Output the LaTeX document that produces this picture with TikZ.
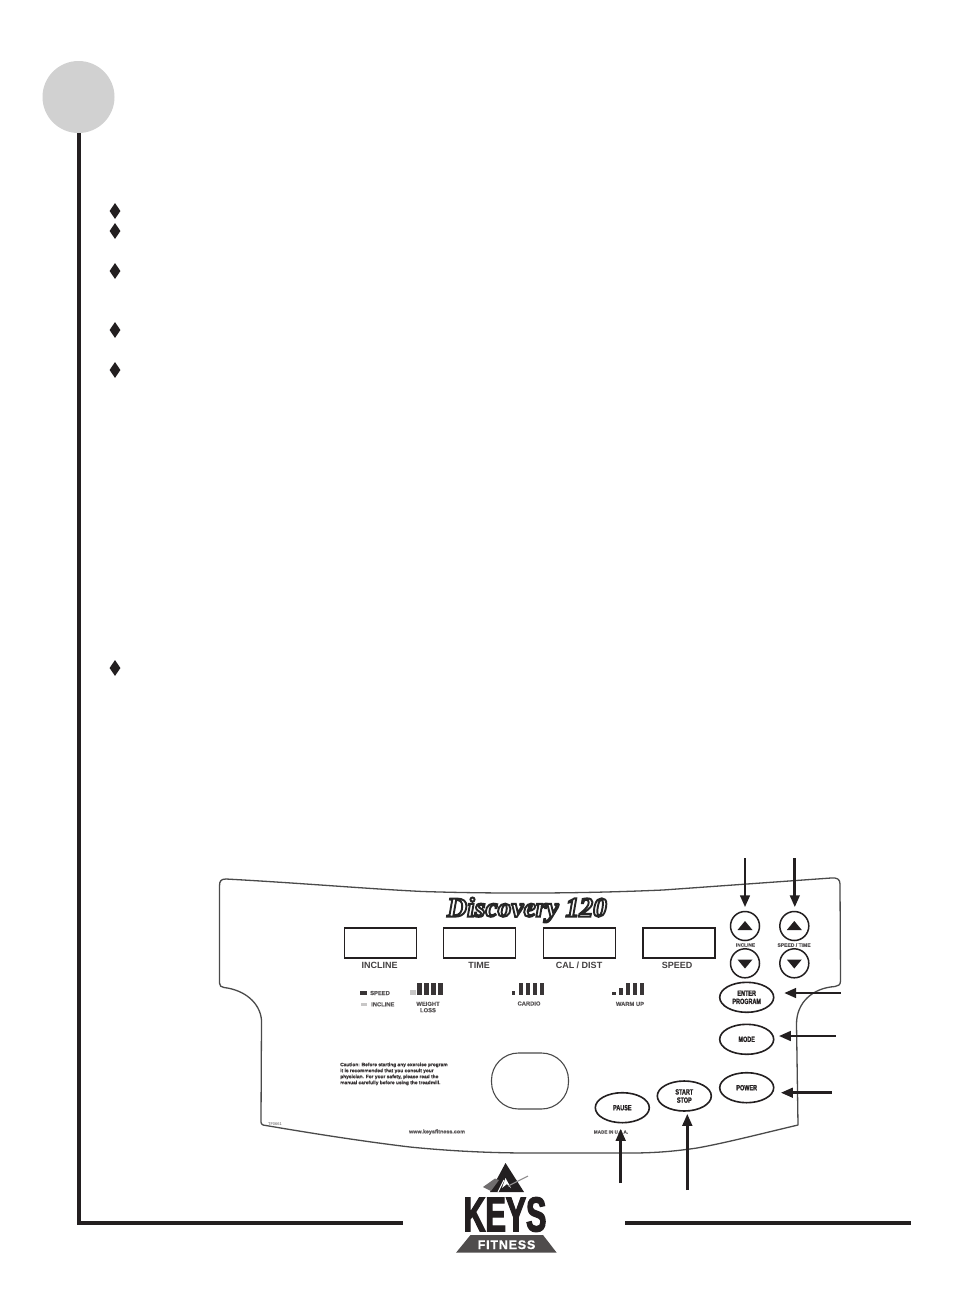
\documentclass[tikz,border=0pt]{standalone}
\usepackage{fontspec}
\usetikzlibrary{arrows.meta,shapes.geometric}
\setmainfont{Liberation Sans}
\newfontfamily\narrowf[FakeStretch=0.72,FakeBold=1.2]{Liberation Sans Bold}
\newfontfamily\keysf[FakeStretch=0.62,FakeBold=2.5]{Liberation Sans Bold}
\newfontfamily\discof[FakeBold=7]{Liberation Serif Bold Italic}
\newfontfamily\heavyf[FakeBold=0.6]{Liberation Sans Bold}
\definecolor{ink}{HTML}{231F20}
\definecolor{panel}{HTML}{4A4A4A}
\tikzset{
  x=1pt,y=-1pt,
  rail/.style={line width=4pt,ink},
  gem/.style={diamond,fill=ink,inner sep=0pt,minimum width=11pt,minimum height=16pt,aspect=0.7},
  panelline/.style={draw=panel,line width=1.3pt,line join=round},
  display/.style={draw=ink,line width=1.6pt,minimum width=72pt,minimum height=30.5pt,inner sep=0pt},
  displabel/.style={font=\bfseries\fontsize{9}{9}\selectfont,text=ink!85,inner sep=0pt},
  tiny/.style={font=\heavyf\fontsize{5.8}{6.4}\selectfont,text=ink!75,inner sep=0pt,align=center},
  roundbtn/.style={circle,draw=ink,line width=1.5pt,minimum size=29pt,inner sep=0pt},
  ovalbtn/.style={ellipse,draw=ink,line width=1.6pt,minimum width=54pt,minimum height=30pt,inner sep=0pt,align=center,
     font=\narrowf\fontsize{7.6}{8.2}\selectfont,text=ink},
  callout/.style={draw=ink,line width=2.8pt,-{Triangle[length=12pt,width=9.5pt]}},
  bar/.style={fill=ink!90,draw=none},
  faint/.style={fill=ink!25,draw=none},
  discotext/.style={inner sep=0pt,font=\discof\fontsize{27.5}{28}\selectfont},
}
\begin{document}
\begin{tikzpicture}
\useasboundingbox (0,0) rectangle (954,1312);
\fill[white] (0,0) rectangle (954,1312);

% frame
\node[circle,fill=black!18,minimum size=72pt,inner sep=0pt] (badge) at (78.5,97) {};
\coordinate (corner) at (78.5,1223);
\coordinate (railA) at (403,1223);
\coordinate (railB) at (625,1223);
\coordinate (railC) at (911,1223);
\draw[rail] (badge.south) -- (corner) -- (railA);
\draw[rail] (railB) -- (railC);

% bullets
\node[gem] (g1) at (115,211) {};
\node[gem] (g2) at (115,231) {};
\node[gem] (g3) at (115,271) {};
\node[gem] (g4) at (115,330) {};
\node[gem] (g5) at (115,370) {};
\node[gem] (g6) at (115,668) {};

% console outline
\draw[panelline]
  (219.5,886) .. controls (219.5,881) and (221,879) .. (226,879)
  .. controls (300,883) and (370,889) .. (423,891.5)
  .. controls (470,893) and (500,893) .. (530,893)
  .. controls (590,893) and (640,891) .. (663,890)
  -- (831,878)
  .. controls (837,877.5) and (840,879) .. (840,884)
  -- (840.5,981)
  .. controls (840.5,985) and (838,986) .. (835,986.5)
  .. controls (812,988) and (796.5,1003) .. (796.5,1024)
  -- (798,1125)
  .. controls (760,1134) and (725,1143) .. (697,1148)
  .. controls (670,1152) and (650,1153) .. (630,1153)
  -- (530,1153)
  .. controls (490,1153) and (450,1151) .. (410,1147)
  .. controls (360,1141) and (310,1133) .. (263,1125)
  .. controls (261.5,1124.5) and (261,1123) .. (261,1122)
  -- (261.5,1020)
  .. controls (260,1003) and (245,990) .. (224,987.5)
  .. controls (221,987) and (219.5,986) .. (219.5,983)
  -- cycle;

% brand mark: white face, dark stroke
\node[discotext,text=white] (disco) at (527,910) {\special{pdf:code 0.15 0.15 0.15 RG}Discovery 120};

% displays
\node[display] (d1) at (380.3,943) {};
\node[display] (d2) at (479.5,943) {};
\node[display] (d3) at (579.3,943) {};
\node[display] (d4) at (678.7,943) {};
\node[displabel] (l1) at (379.5,965.3) {INCLINE};
\node[displabel] (l2) at (479,965.3) {TIME};
\node[displabel] (l3) at (579,965.3) {CAL / DIST};
\node[displabel] (l4) at (677,965.3) {SPEED};

% legend
\fill[bar] (360,990.5) rectangle (367,994.5);
\fill[faint] (360.5,1002.5) rectangle (366.5,1005.5);
\node[tiny,anchor=west] (lgs) at (370,993) {SPEED};
\node[tiny,anchor=west] (lgi) at (371,1004.3) {INCLINE};

% profile bars
\fill[faint] (410,990) rectangle (416,995);
\foreach \xx in {417,424,431,438} \fill[bar] (\xx,983) rectangle (\xx+4.8,995);
\node[tiny] (wl) at (428,1007) {WEIGHT\\LOSS};
\fill[bar] (511.5,990.5) rectangle (515,995);
\foreach \xx in {518.5,525.5,532.5,539.5} \fill[bar] (\xx,983) rectangle (\xx+4.8,995);
\node[tiny] (cd) at (529,1003.5) {CARDIO};
\fill[bar] (612,992) rectangle (615.5,995);
\fill[bar] (619,988) rectangle (622.5,995);
\foreach \xx in {626,633,640} \fill[bar] (\xx,983) rectangle (\xx+4.4,995);
\node[tiny] (wu) at (630,1004) {WARM UP};

% caution, small print
\node[inner sep=0pt,anchor=north west,align=left,text=ink!90,font=\heavyf\fontsize{4.85}{6}\selectfont] (caution) at (340,1062.5)
  {Caution: Before starting any exercise program\\it is recommended that you consult your\\physician. For your safety, please read the\\manual carefully before using the treadmill.};
\node[tiny,font=\heavyf\fontsize{5.4}{6}\selectfont] (web) at (437,1132) {www.keysfitness.com};
\node[tiny,font=\heavyf\fontsize{4.6}{5}\selectfont] (usa) at (611,1132) {MADE IN U.S.A.};
\node[tiny,font=\fontsize{4}{5}\selectfont] (part) at (275,1124) {TF0661};

% centre window
\node[draw=panel,line width=1.1pt,rounded corners=27pt,minimum width=77pt,minimum height=56pt,inner sep=0pt] (window) at (530,1081) {};

% round buttons
\node[roundbtn] (incUp) at (745,926) {};
\node[roundbtn] (incDn) at (745,963.3) {};
\node[roundbtn] (spdUp) at (794.3,926) {};
\node[roundbtn] (spdDn) at (794.3,963.3) {};
\fill[ink] (745,921) -- (752.5,930) -- (737.5,930) -- cycle;
\fill[ink] (794.3,921) -- (801.8,930) -- (786.8,930) -- cycle;
\fill[ink] (745,968.5) -- (752.5,959.5) -- (737.5,959.5) -- cycle;
\fill[ink] (794.3,968.5) -- (801.8,959.5) -- (786.8,959.5) -- cycle;
\node[tiny,font=\heavyf\fontsize{4.8}{5}\selectfont] (incL) at (745.5,945) {INCLINE};
\node[tiny,font=\heavyf\fontsize{5}{5}\selectfont] (spdL) at (794,945) {SPEED / TIME};

% oval buttons
\node[ovalbtn] (enter) at (746.7,997.3) {ENTER\\PROGRAM};
\node[ovalbtn] (mode) at (746.7,1039.3) {MODE};
\node[ovalbtn] (power) at (746.7,1087.7) {POWER};
\node[ovalbtn] (pause) at (622.3,1107.7) {PAUSE};
\node[ovalbtn] (start) at (684.3,1096) {START\\STOP};

% callouts
\coordinate (aInc) at (745,858);
\coordinate (aSpd) at (794.8,858);
\coordinate (aEnt) at (840.7,993);
\coordinate (aMod) at (835.7,1036);
\coordinate (aPow) at (831.7,1092.7);
\coordinate (aPau) at (620.7,1183);
\coordinate (aSta) at (687.3,1190);
\draw[callout,shorten >=3.5pt] (aInc) -- (incUp.north);
\draw[callout,shorten >=3.5pt] (aSpd) -- (aSpd |- spdUp.north);
\draw[callout,shorten >=9.6pt] (aEnt) -- (aEnt -| enter.east);
\draw[callout,shorten >=4.3pt] (aMod) -- (aMod -| mode.east);
\draw[callout,shorten >=6.3pt] (aPow) -- (aPow -| power.east);
\draw[callout,shorten >=5.3pt] (aPau) -- (aPau |- pause.south);
\draw[callout,shorten >=2pt] (aSta) -- (aSta |- start.south);

% Keys logo
\fill[ink] (505.5,1163) -- (524,1192) -- (490,1192) -- cycle;
\fill[white] (505.5,1178) -- (511,1188) -- (507,1184) -- (502,1188) -- cycle;
\draw[white,line width=1pt] (498,1192) -- (504,1180);
\fill[ink!65] (483,1187) -- (495,1178.5) -- (499,1180) -- (491,1191) -- cycle;
\draw[ink!50,line width=1.1pt] (508,1186) -- (528,1176);
\node[inner sep=0pt,text=ink,font=\keysf\fontsize{49}{50}\selectfont] (keys) at (505,1214.5) {KEYS};
\fill[ink!80] (470.5,1235) -- (543,1235) -- (556.7,1252.7) -- (456,1252.7) -- cycle;
\node[inner sep=0pt,text=white,font=\heavyf\fontsize{12.5}{13}\selectfont,anchor=base] (fit) at (506.5,1249) {F\kern0.8pt I\kern0.8pt T\kern0.8pt N\kern0.8pt E\kern0.8pt S\kern0.8pt S};
\end{tikzpicture}
\end{document}
